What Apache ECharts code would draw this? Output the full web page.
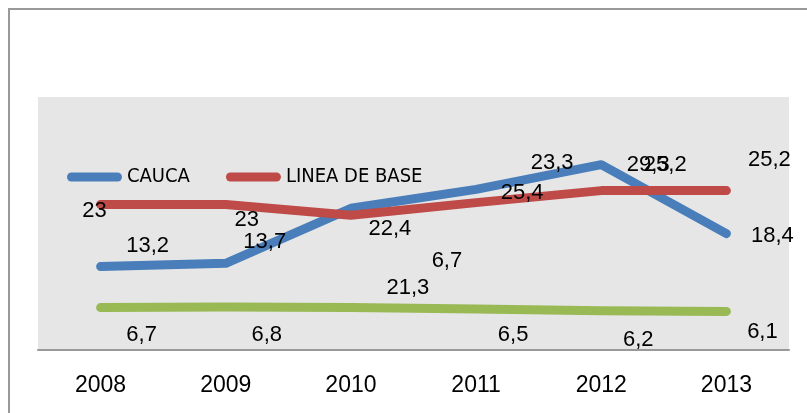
<!DOCTYPE html>
<html>
<head>
<meta charset="utf-8">
<script src="https://cdn.jsdelivr.net/npm/echarts@6/dist/echarts.min.js"></script>
<style>
  html, body { margin: 0; padding: 0; background: #fff; }
  #chart { width: 807px; height: 413px; }
</style>
</head>
<body>
<div id="chart"></div>
<script>
// datos
const years = ['2008', '2009', '2010', '2011', '2012', '2013'];
const cauca = [13.2, 13.7, 22.4, 25.4, 29.3, 18.4];
const lineaBase = [23, 23, 21.3, 23.3, 25.2, 25.2];
const tercera = [6.7, 6.8, 6.7, 6.5, 6.2, 6.1];

// desplazamiento de las etiquetas (px), como en el original de Excel
const caucaShift = [[47, -21], [39, -21], [39, 21], [46, 4], [47, 0], [46, 2]];
const baseShift = [[-6, 6], [21, 15], [57, 73], [76, -40], [64, -26], [43, -31]];
const terceraShift = [[41, 27], [41, 28], [96, -47], [37, 26], [37, 29], [36, 21]];

const FONT = '"Liberation Sans", Arial, sans-serif';

function withLabels(values, shifts) {
    return values.map((v, i) => ({ value: v, label: { offset: shifts[i] } }));
}

function lineSeries(name, values, shifts, color) {
    return {
        name: name,
        type: 'line',
        data: withLabels(values, shifts),
        symbol: 'circle',
        symbolSize: 1,
        itemStyle: { color: color },
        lineStyle: { color: color, width: 9, cap: 'round', join: 'round' },
        label: {
            show: true,
            position: 'inside',
            color: '#000',
            fontSize: 22,
            fontFamily: FONT,
            formatter: p => String(p.value).replace('.', ',')
        },
        emphasis: { disabled: true },
        animation: false
    };
}

const chart = echarts.init(document.getElementById('chart'));
chart.setOption({
    animation: false,
    graphic: [{
        type: 'rect',
        shape: { x: 9, y: 9, width: 900, height: 500 },
        style: { fill: 'none', stroke: '#999', lineWidth: 2 },
        silent: true
    }],
    grid: {
        left: 38, right: 18, top: 97, bottom: 63,
        show: true, backgroundColor: '#e6e6e6', borderWidth: 0
    },
    legend: {
        data: ['CAUCA', 'LINEA DE BASE'],
        left: 67, top: 167, padding: 0,
        itemWidth: 55, itemHeight: 9, itemGap: 36,
        icon: 'path://M4.5,0 L50.5,0 A4.5,4.5 0 0 1 50.5,9 L4.5,9 A4.5,4.5 0 0 1 4.5,0 Z',
        textStyle: { color: '#000', fontSize: 20, fontFamily: '"Liberation Sans Narrow", "DejaVu Sans Condensed", sans-serif', lineHeight: 20 },
        selectedMode: false
    },
    xAxis: {
        type: 'category',
        data: years,
        axisLine: { lineStyle: { color: '#999', width: 2 } },
        axisTick: { show: false },
        axisLabel: { color: '#000', fontSize: 23, fontFamily: FONT, margin: 24 }
    },
    yAxis: {
        type: 'value',
        min: 0, max: 40,
        show: false,
        splitLine: { show: false }
    },
    series: [
        lineSeries('CAUCA', cauca, caucaShift, '#4a7ebb'),
        lineSeries('LINEA DE BASE', lineaBase, baseShift, '#be4b48'),
        lineSeries('Serie 3', tercera, terceraShift, '#98b954')
    ]
});
</script>
</body>
</html>
